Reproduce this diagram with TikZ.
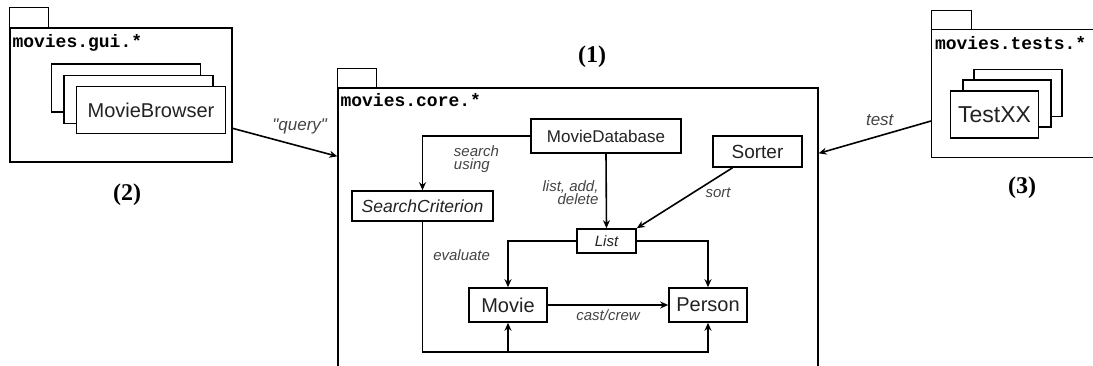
\documentclass[tikz,border=0pt]{standalone}
\usepackage{fontspec}
\setmainfont{Liberation Sans}
\newfontfamily\pkgfont{Liberation Mono}
\newfontfamily\tagfont{Liberation Serif}
\usetikzlibrary{positioning, arrows.meta}
\definecolor{inktext}{HTML}{222222}
\definecolor{notegray}{HTML}{444444}
\tikzset{
    >={Stealth[length=8pt,width=7pt]}, % small filled arrow heads
    pkg/.style={draw, line width=1.3pt, inner sep=0pt}, % package body
    tab/.style={draw, line width=1.3pt}, % package tab on top
    pkgname/.style={anchor=base west, inner sep=0pt, font=\pkgfont\bfseries\fontsize{18}{18}\selectfont},
    cls/.style={draw, fill=white, line width=1.6pt, inner sep=0pt, text=inktext, font=\fontsize{#1}{#1}\selectfont},
    cls/.default=17,
    icls/.style={cls, font=\itshape\fontsize{#1}{#1}\selectfont}, % abstract types in italics
    icls/.default=17,
    note/.style={text=notegray, inner sep=1pt, font=\itshape\fontsize{#1}{13}\selectfont},
    note/.default=15,
    dep/.style={->, line width=1.6pt},
    tag/.style={inner sep=0pt, font=\tagfont\bfseries\fontsize{24}{24}\selectfont},
}

\begin{document}
\begin{tikzpicture}[x=1pt, y=-1pt]
    \useasboundingbox (0,0) rectangle (1093,366);
    \clip (0,0) rectangle (1093,366);

    % the three packages
    \node[pkg, minimum width=222pt, minimum height=134pt] (gui) at (121,95) {};
    \node[pkg, minimum width=480pt, minimum height=292pt] (core) at (578,234) {};
    \node[minimum width=220pt, minimum height=127pt, inner sep=0pt] (tests) at (1042,93.5) {};
    % tests package runs off the right side, so leave its right edge open
    \draw[tab] (tests.north east) -- (tests.north west) -- (tests.south west) -- (tests.south east);
    \draw[tab] (gui.north west) rectangle ++(39,-20);
    \draw[tab] (core.north west) rectangle ++(39,-19);
    \draw[tab] (tests.north west) rectangle ++(40,-19);
    \node[pkgname] (guiname) at ([xshift=3pt,yshift=-20pt]gui.north west) {movies.gui.*};
    \node[pkgname] (corename) at ([xshift=3pt,yshift=-19pt]core.north west) {movies.core.*};
    \node[pkgname] (testsname) at ([xshift=3pt,yshift=-20pt]tests.north west) {movies.tests.*};

    % gui classes
    \node[cls=20, minimum width=149pt, minimum height=48pt] (browser3) at (126,88) {};
    \node[cls=20, minimum width=149pt, minimum height=48pt] (browser2) at (138.5,99.5) {};
    \node[cls=20, minimum width=149pt, minimum height=47pt] (browser) at (151,110) {MovieBrowser};

    % test classes
    \node[cls=23, minimum width=88pt, minimum height=47pt] (testxx3) at (1018,93) {};
    \node[cls=23, minimum width=88pt, minimum height=47pt] (testxx2) at (1007,103.5) {};
    \node[cls=23, minimum width=88pt, minimum height=47pt] (testxx) at (994.5,114.5) {TestXX};

    % core classes
    \node[cls, minimum width=150pt, minimum height=34pt] (db) at (606,136) {MovieDatabase};
    \node[icls=17.5, minimum width=141pt, minimum height=30pt] (crit) at (422.5,206) {SearchCriterion};
    \node[icls=15, minimum width=59pt, minimum height=24pt] (list) at (606.5,241) {List};
    \node[cls=19, minimum width=89pt, minimum height=31pt] (sorter) at (757.5,151.5) {Sorter};
    \node[cls=20, minimum width=78pt, minimum height=34pt] (movie) at (508,305) {Movie};
    \node[cls=20, minimum width=78pt, minimum height=34pt] (person) at (708,305) {Person};
    \coordinate (bus) at ([yshift=-29pt]movie.south);

    % dependencies between packages
    \draw[dep] ([yshift=-101pt]gui.north east) -- node[note=17, pos=0.64, above=10pt] {\textquotedbl query\textquotedbl} ([yshift=-69pt]core.north west);
    \draw[dep] ([yshift=-91pt]tests.north west) -- node[note=17, pos=0.46, above=8pt] {test} ([yshift=-66pt]core.north east);

    % dependencies inside the core
    \draw[dep] (db.west) -| (crit.north);
    \node[note, align=left, below left=8pt and 30pt of db.west] (searchnote) {search\\using};
    \draw[dep] (db.south) -- node[note, align=right, pos=0.52, left=6pt] {list, add,\\delete} (list.north);
    \draw[dep] ([xshift=-25pt]sorter.south) -- node[note, pos=0.3, anchor=north west] {sort} (list.north east);
    \draw[dep] (list.west) -| (movie.north);
    \draw[dep] (list.east) -| (person.north);
    \draw[dep] (movie.east) -- node[note, below=3pt] {cast/crew} (person.west);
    \draw[dep] (crit.south) |- node[note, pos=0.13, right=9pt] {evaluate} (bus -| person.south) -- (person.south);
    \draw[dep] (bus) -- (movie.south);

    % numbering
    \node[tag] (tag1) at (592,57) {(1)};
    \node[tag] (tag2) at (127,195) {(2)};
    \node[tag] (tag3) at (1022,188) {(3)};
\end{tikzpicture}
\end{document}
